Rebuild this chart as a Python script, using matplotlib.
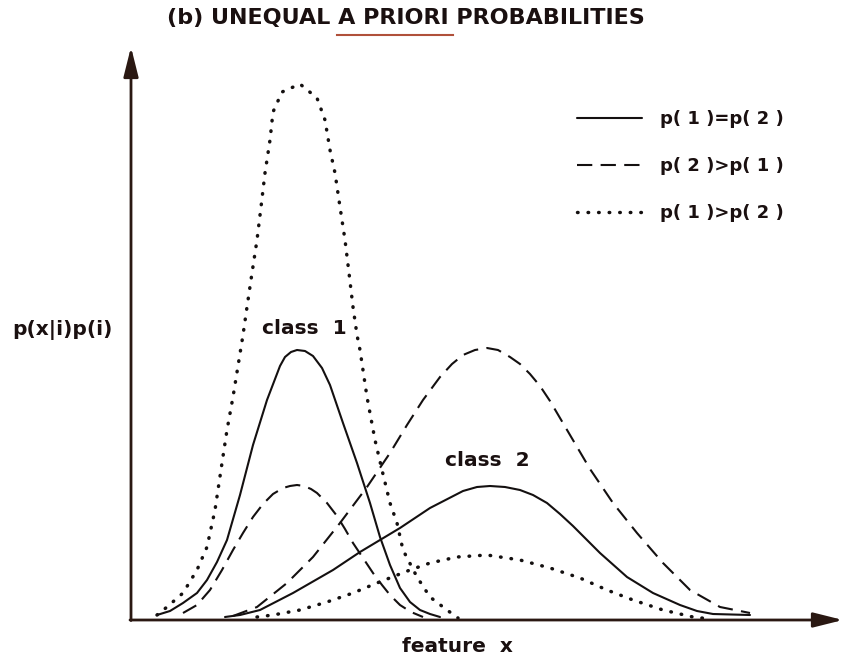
import matplotlib
matplotlib.use("Agg")
import matplotlib.pyplot as plt

plt.rcParams['font.family'] = ['DejaVu Sans']
plt.rcParams['lines.scale_dashes'] = False

# class 1 curves (feature x, p(x|i)p(i))
c1_x = [2.6, 3.9, 5.2, 6.6, 7.6, 8.6, 9.6, 10.9, 12.2, 13.6, 14.9, 15.4, 16.0, 16.6, 17.4, 18.2, 19.1,
        19.9, 21.2, 22.6, 23.9, 24.9, 25.9, 26.9, 27.9, 28.9, 29.9, 30.9]
c1_equal = [0.5, 0.9, 1.7, 2.7, 4.0, 5.8, 8.0, 12.5, 17.5, 22.0, 25.4, 26.3, 26.8, 27.0, 26.9, 26.4, 25.2,
            23.5, 19.7, 15.7, 11.7, 8.3, 5.5, 3.2, 1.8, 1.0, 0.6, 0.3]

c1_dash_x = [5.2, 6.6, 7.9, 9.1, 10.2, 11.2, 12.2, 13.2, 14.2, 15.2, 15.9, 16.6, 17.3, 18.0, 18.6, 19.6,
             20.6, 21.4, 22.2, 23.2, 24.2, 25.1, 25.9, 26.9, 28.0, 29.2]
c1_p2_big = [0.7, 1.5, 3.0, 5.0, 7.0, 8.7, 10.3, 11.6, 12.6, 13.2, 13.4, 13.5, 13.4, 13.1, 12.7, 11.7,
             10.4, 9.1, 7.7, 6.2, 4.7, 3.5, 2.5, 1.5, 0.8, 0.3]

c1_dot_x = [2.6, 3.6, 5.2, 6.6, 7.6, 8.4, 9.1, 9.6, 10.2, 11.2, 11.6, 12.1, 12.6, 13.0, 13.4, 13.9,
            14.2, 15.1, 16.9, 18.6, 19.4, 19.9, 20.4, 20.9, 21.4, 21.8, 22.2, 22.6, 22.9, 23.6,
            24.4, 25.1, 25.9, 26.6, 27.2, 28.6, 29.9, 31.6, 32.7]
c1_p1_big = [0.5, 1.3, 2.7, 5.0, 7.3, 11.0, 15.7, 19.0, 22.3, 28.5, 31.3, 34.7, 38.0, 41.3, 44.7, 48.0,
             50.8, 52.8, 53.6, 52.2, 50.0, 47.0, 44.7, 41.3, 38.0, 34.7, 31.3, 28.5, 27.0, 22.3,
             18.0, 15.0, 11.7, 9.7, 7.0, 4.3, 2.3, 1.0, 0.2]

# class 2 curves
c2_x = [9.4, 10.9, 12.9, 16.2, 20.2, 22.9, 24.9, 26.9, 29.9, 33.2, 34.6, 35.9, 37.4, 38.9, 40.2, 41.6,
        42.9, 44.2, 45.6, 46.9, 49.6, 52.2, 54.9, 56.6, 58.2, 61.9]
c2_equal = [0.3, 0.5, 1.0, 2.7, 5.0, 6.8, 8.0, 9.2, 11.2, 12.9, 13.3, 13.4, 13.3, 13.0, 12.5, 11.7,
            10.6, 9.4, 8.0, 6.7, 4.3, 2.7, 1.5, 0.9, 0.6, 0.5]

c2_dash_x = [10.2, 12.6, 15.6, 18.2, 20.9, 23.6, 25.9, 27.6, 29.2, 30.9, 32.1, 33.2, 34.4, 35.6, 36.7,
             37.9, 38.9, 39.9, 40.9, 41.9, 43.9, 45.9, 48.2, 50.6, 53.2, 55.9, 58.9, 61.9]
c2_p2_big = [0.4, 1.3, 3.7, 6.3, 9.7, 13.3, 16.7, 19.5, 22.0, 24.3, 25.6, 26.5, 27.0, 27.2, 27.0,
             26.3, 25.6, 24.6, 23.4, 21.9, 18.5, 15.1, 11.7, 8.7, 5.7, 3.0, 1.3, 0.7]

c2_dot_x = [12.6, 14.2, 16.9, 19.6, 22.2, 24.6, 27.9, 29.9, 32.6, 35.6, 38.9, 41.9, 44.9, 47.6, 50.2, 53.2, 56.2, 57.9]
c2_p1_big = [0.3, 0.5, 1.0, 1.8, 2.7, 3.7, 5.0, 5.7, 6.3, 6.5, 6.0, 5.2, 4.2, 3.0, 2.0, 1.0, 0.3, 0.1]

legend_labels = ['p( 1 )=p( 2 )', 'p( 2 )>p( 1 )', 'p( 1 )>p( 2 )']

ink = '#141010'
solid = dict(color=ink, lw=1.5, solid_capstyle='round', solid_joinstyle='round')
dashed = dict(color=ink, lw=1.5, dashes=(11, 6))
dotted = dict(color=ink, lw=2.5, dashes=(0.4, 7.2), dash_capstyle='round')

fig = plt.figure(figsize=(8.46, 6.63), dpi=100)
ax = fig.add_axes([0, 0, 1, 1])
ax.set_xlim(-13.1, 71.5)
ax.set_ylim(-4.3, 62.0)
ax.axis('off')

l1, = ax.plot(c1_x, c1_equal, **solid)
l2, = ax.plot(c1_dash_x, c1_p2_big, **dashed)
l3, = ax.plot(c1_dot_x, c1_p1_big, **dotted)
ax.plot(c2_x, c2_equal, **solid)
ax.plot(c2_dash_x, c2_p2_big, **dashed)
ax.plot(c2_dot_x, c2_p1_big, **dotted)

# axes with arrow heads
arrow = dict(arrowstyle='-|>,head_length=1.8,head_width=0.45', lw=2, color='#2a1812',
             shrinkA=0, shrinkB=0)
ax.annotate('', xy=(0, 57.3), xytext=(0, -0.05), arrowprops=arrow)
ax.annotate('', xy=(71.2, 0), xytext=(-0.1, 0), arrowprops=arrow)

leg = ax.legend([l1, l2, l3], legend_labels, loc='upper left', bbox_to_anchor=(0.663, 0.858),
                frameon=False, handlelength=3.6, handletextpad=1.0, labelspacing=1.6,
                prop=dict(size=13, weight='bold'))
for t in leg.get_texts():
    t.set_color('#1a1010')

txt = dict(ha='center', va='center', fontsize=14.5, fontweight='bold', color='#1a1010')
ax.text(27.5, 60.2, '(b) UNEQUAL A PRIORI PROBABILITIES', **dict(txt, fontsize=16))
ax.plot([20.6, 32.2], [58.5, 58.5], color='#b0503a', lw=1.5)

ax.text(-6.9, 29.0, 'p(x|i)p(i)', **txt)
ax.text(17.3, 29.2, 'class  1', **txt)
ax.text(35.6, 16.0, 'class  2', **txt)
ax.text(32.6, -2.7, 'feature  x', **txt)

fig.savefig('out.png', dpi=100)
